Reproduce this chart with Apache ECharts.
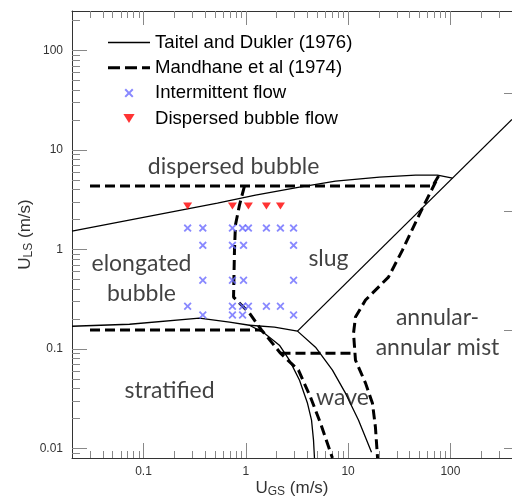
<!DOCTYPE html>
<html>
<head>
<meta charset="utf-8">
<script src="https://cdn.jsdelivr.net/npm/echarts@6/dist/echarts.min.js"></script>
<style>
  html, body { margin: 0; padding: 0; background: #fff; }
  #chart { width: 512px; height: 497px; }
</style>
</head>
<body>
<div id="chart"></div>
<script>
// Axis ranges and tick positions (m/s)
const X_MIN = 0.02, X_MAX = 400;
const Y_MIN = 0.008, Y_MAX = 250;
const xMajor = [0.1, 1, 10, 100];
const xMinor = [0.03, 0.04, 0.05, 0.06, 0.07, 0.08, 0.09,
                0.2, 0.3, 0.4, 0.5, 0.6, 0.7, 0.8, 0.9,
                2, 3, 4, 5, 6, 7, 8, 9,
                20, 30, 40, 50, 60, 70, 80, 90,
                200, 300];
const yMajor = [0.01, 0.1, 1, 10, 100];
const yMinor = [0.009, 0.02, 0.03, 0.04, 0.05, 0.06, 0.07, 0.08, 0.09,
                0.2, 0.3, 0.4, 0.5, 0.6, 0.7, 0.8, 0.9,
                2, 3, 4, 5, 6, 7, 8, 9,
                20, 30, 40, 50, 60, 70, 80, 90, 200];
const rightTicks = [0.01, 0.155, 2.4, 37];

// Taitel & Dukler (1976) transition boundaries [U_GS, U_LS]
const taitelBubble = [[0.02, 1.53], [0.528, 2.92], [1.244, 3.52], [3.35, 4.24], [7.53, 4.87],
                      [20.3, 5.35], [45.6, 5.6], [74.8, 5.6], [104.9, 5.22]];
const taitelStratified = [[0.02, 0.169], [0.073, 0.177], [0.352, 0.204], [0.693, 0.186], [1.086, 0.173],
                          [1.52, 0.144], [2.13, 0.109], [2.67, 0.0771], [3.35, 0.0485], [4.01, 0.0284],
                          [4.39, 0.0192], [4.59, 0.0121], [4.69, 0.008]];
const taitelWavy = [[1.086, 0.173], [1.906, 0.166], [3.2, 0.151], [4.8, 0.104], [7.03, 0.0611],
                    [9.42, 0.0359], [12.65, 0.0192], [16.94, 0.00914]];
const taitelAnnular = [[3.2, 0.151], [400, 20.3]];

// Mandhane et al (1974) transition boundaries [U_GS, U_LS]
const mandhaneAnnular = [[0.03, 4.34], [66.8, 4.34], [76.6, 5.47], [51.05, 2.38], [34.0, 0.986],
                         [24.8, 0.527], [14.8, 0.31], [11.8, 0.209], [11.3, 0.144], [11.8, 0.0771],
                         [14.8, 0.0453], [17.3, 0.0284], [18.5, 0.0163], [19.4, 0.008]];
const mandhaneSlug = [[0.97, 4.34], [0.867, 2.79], [0.792, 1.76], [0.775, 0.986], [0.759, 0.332],
                      [1.086, 0.229], [1.423, 0.155], [1.782, 0.117], [2.183, 0.0906], [3.27, 0.0611],
                      [4.29, 0.0327], [5.37, 0.0179], [7.03, 0.008]];
const mandhaneStratified = [[0.03, 0.155], [1.423, 0.155]];
const mandhaneWavy = [[2.183, 0.0906], [11.3, 0.0906]];

// Observed flow patterns [U_GS, U_LS]
const intermittentPts = [
  [0.27, 1.64], [0.38, 1.64], [0.74, 1.64], [0.93, 1.64], [1.06, 1.64], [1.59, 1.64], [2.18, 1.64], [2.93, 1.64],
  [0.38, 1.1], [0.74, 1.1], [0.95, 1.1], [2.93, 1.1],
  [0.38, 0.49], [0.74, 0.49], [0.95, 0.49], [2.93, 0.49],
  [0.27, 0.269], [0.74, 0.269], [0.93, 0.269], [1.06, 0.269], [1.59, 0.269], [2.18, 0.269],
  [0.38, 0.219], [0.74, 0.219], [0.93, 0.219], [2.93, 0.219]
];
const dispersedPts = [[0.27, 2.73], [0.74, 2.73], [1.06, 2.73], [1.59, 2.73], [2.18, 2.73]];

// Flow regime names and where they sit on the map
const regionNames = ['dispersed bubble', 'elongated\nbubble', 'slug', 'annular-\nannular mist', 'stratified', 'wave'];
const regionAt = [[0.76, 6.74], [0.0955, 0.515], [6.43, 0.818], [74.8, 0.1475], [0.18, 0.0385], [8.81, 0.0327]];

const NAME_TD = 'Taitel and Dukler (1976)';
const NAME_MD = 'Mandhane et al (1974)';
const NAME_INT = 'Intermittent flow';
const NAME_DB = 'Dispersed bubble flow';

const CROSS = 'path://M1.6,0L5,3.4L8.4,0L10,1.6L6.6,5L10,8.4L8.4,10L5,6.6L1.6,10L0,8.4L3.4,5L0,1.6Z';
const TRI_DOWN = 'path://M0,0L10,0L5,8Z';
const SOLID_ICON = 'path://M0,0H40V1.2H0Z';
const DASH_ICON = 'path://M0,0H12V3H0Z M17,0H29V3H17Z M34,0H42V3H34Z';

const AXIS_COLOR = '#333';
const TICK_COLOR = '#888';
const SANS = 'Liberation Sans, Arial, sans-serif';
const fmt = v => String(+(+v).toPrecision(3));

function axisBase(min, max, position, tickValues, tickLen, showLine) {
  return {
    type: 'log', logBase: 10, min: min, max: max, position: position,
    axisLine: { show: showLine, onZero: false, lineStyle: { color: AXIS_COLOR, width: 1 } },
    axisTick: { show: true, inside: true, length: tickLen, customValues: tickValues,
                lineStyle: { color: TICK_COLOR, width: 1 } },
    axisLabel: { show: false },
    splitLine: { show: false },
    minorTick: { show: false },
    minorSplitLine: { show: false }
  };
}

const nameRich = {
  u: { fontFamily: SANS, fontSize: 17, color: '#333', lineHeight: 20 },
  s: { fontFamily: SANS, fontSize: 12, color: '#333', lineHeight: 12, padding: [8, 0, 0, 0] }
};

const xMain = axisBase(X_MIN, X_MAX, 'bottom', xMajor, 15, true);
xMain.axisLabel = { show: true, customValues: xMajor, formatter: fmt, margin: 8,
                    color: '#333', fontSize: 12, fontFamily: SANS };
xMain.name = '{u|U}{s|GS}{u| (m/s)}';
xMain.nameLocation = 'middle';
xMain.nameGap = 20;
xMain.nameMoveOverlap = false;
xMain.nameTextStyle = { rich: nameRich };

const yMain = axisBase(Y_MIN, Y_MAX, 'left', yMajor, 15, true);
yMain.axisLabel = { show: true, customValues: yMajor, formatter: fmt, margin: 9,
                    color: '#333', fontSize: 12, fontFamily: SANS };
yMain.name = '{u|U}{s|LS}{u| (m/s)}';
yMain.nameLocation = 'middle';
yMain.nameGap = 37;
yMain.nameMoveOverlap = false;
yMain.nameTextStyle = { rich: nameRich };

const tdLine = { type: 'line', name: NAME_TD, symbol: 'none', color: '#000',
                 lineStyle: { color: '#000', width: 1.3 }, silent: true, z: 3 };
const mdLine = { type: 'line', name: NAME_MD, symbol: 'none', color: '#000',
                 lineStyle: { color: '#000', width: 3, type: [10, 5] }, silent: true, z: 3 };

const option = {
  animation: false,
  backgroundColor: '#fff',
  grid: { left: 72, top: 11, width: 440, height: 447, containLabel: false, outerBoundsMode: 'none' },
  xAxis: [
    xMain,
    axisBase(X_MIN, X_MAX, 'bottom', xMinor, 7, false),
    axisBase(X_MIN, X_MAX, 'top', xMajor, 14, true),
    axisBase(X_MIN, X_MAX, 'top', xMinor, 7, false)
  ],
  yAxis: [
    yMain,
    axisBase(Y_MIN, Y_MAX, 'left', yMinor, 8, false),
    axisBase(Y_MIN, Y_MAX, 'right', rightTicks, 8, false)
  ],
  legend: {
    orient: 'vertical', left: 108, top: 33, padding: 0,
    itemWidth: 42, itemHeight: 9, itemGap: 6.3,
    selectedMode: false,
    itemStyle: { borderWidth: 0 },
    textStyle: { fontFamily: SANS, fontSize: 18.6, color: '#000', lineHeight: 16 },
    data: [
      { name: NAME_TD, icon: SOLID_ICON },
      { name: NAME_MD, icon: DASH_ICON },
      { name: NAME_INT, icon: CROSS },
      { name: NAME_DB, icon: TRI_DOWN }
    ]
  },
  series: [
    Object.assign({ data: taitelBubble }, tdLine),
    Object.assign({ data: taitelStratified }, tdLine),
    Object.assign({ data: taitelWavy }, tdLine),
    Object.assign({ data: taitelAnnular }, tdLine),
    Object.assign({ data: mandhaneAnnular }, mdLine),
    Object.assign({ data: mandhaneSlug }, mdLine),
    Object.assign({ data: mandhaneStratified }, mdLine),
    Object.assign({ data: mandhaneWavy }, mdLine),
    {
      type: 'scatter', name: NAME_INT, data: intermittentPts,
      symbol: CROSS, symbolSize: 8, color: '#6b6bff',
      itemStyle: { color: '#6b6bff', borderWidth: 0 }, silent: true, z: 4
    },
    {
      type: 'scatter', name: NAME_DB, data: dispersedPts,
      symbol: TRI_DOWN, symbolSize: [9, 7], color: '#ff0000',
      itemStyle: { color: '#ff0000', borderWidth: 0 }, silent: true, z: 4
    },
    {
      type: 'scatter', name: 'regimes',
      data: regionNames.map((n, i) => ({ name: n, value: regionAt[i] })),
      symbol: 'circle', symbolSize: 1,
      itemStyle: { color: 'rgba(0,0,0,0)' },
      label: { show: true, position: 'inside', formatter: p => p.name,
               fontFamily: 'Lato, Carlito, sans-serif', fontSize: 23, color: '#111',
               lineHeight: 30, align: 'center' },
      silent: true, z: 5
    }
  ]
};

const chart = echarts.init(document.getElementById('chart'), null, { renderer: 'canvas' });
chart.setOption(option);
</script>
</body>
</html>
